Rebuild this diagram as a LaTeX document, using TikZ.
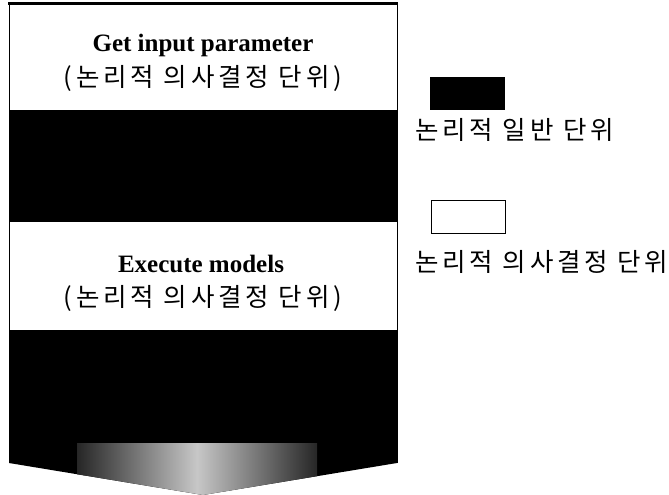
\documentclass[tikz,border=0pt]{standalone}
\usepackage{fontspec}
\setmainfont{Liberation Serif}
\newfontfamily\krfont[LetterSpace=15]{Noto Sans CJK KR}
\begin{document}
\begin{tikzpicture}[x=1pt,y=-1pt,
  unitlabel/.style={font=\bfseries\fontsize{25}{29}\selectfont, anchor=base, inner sep=0pt},
  krlabel/.style={font=\krfont\fontsize{25.5}{30}\selectfont, anchor=base, inner sep=0pt},
  legendtext/.style={font=\krfont\fontsize{25.5}{30}\selectfont, anchor=base west, inner sep=0pt}]
\useasboundingbox (0,0) rectangle (669,495);

% decision unit (white) and general unit (black) bands
\path[fill=white] (9,4) rectangle (397,110);
\path[fill=black] (9,110) rectangle (397,222);
\path[fill=white] (9,222) rectangle (397,330);
% final general unit shaped as a downward arrow
\path[fill=black] (9,330) -- (397,330) -- (397,463) -- (203,495) -- (9,463) -- cycle;
\begin{scope}
  \clip (9,330) -- (397,330) -- (397,463) -- (203,495) -- (9,463) -- cycle;
  \shade[left color=black!85, right color=black!85, middle color=black!22] (77,443) rectangle (317,495);
\end{scope}
% outline of the stack
\draw[line width=0.8pt] (9,4) -- (9,463);
\draw[line width=0.8pt] (397,4) -- (397,463);
\draw[line width=2.2pt] (8,3.5) -- (398,3.5);

\node[unitlabel] (get) at (203,52) {Get input parameter};
\node[krlabel] (getk) at (203,86) {(논리적 의사결정 단위)};
\node[unitlabel] (exe) at (201,272) {Execute models};
\node[krlabel] (exek) at (203,306) {(논리적 의사결정 단위)};

% legend
\path[fill=black] (430,77) rectangle (505,110);
\node[legendtext] (lg1) at (415,139) {논리적 일반 단위};
\draw[line width=0.8pt] (431,200) rectangle (505,233);
\node[legendtext] (lg2) at (415,271) {논리적 의사결정 단위};
\end{tikzpicture}
\end{document}
